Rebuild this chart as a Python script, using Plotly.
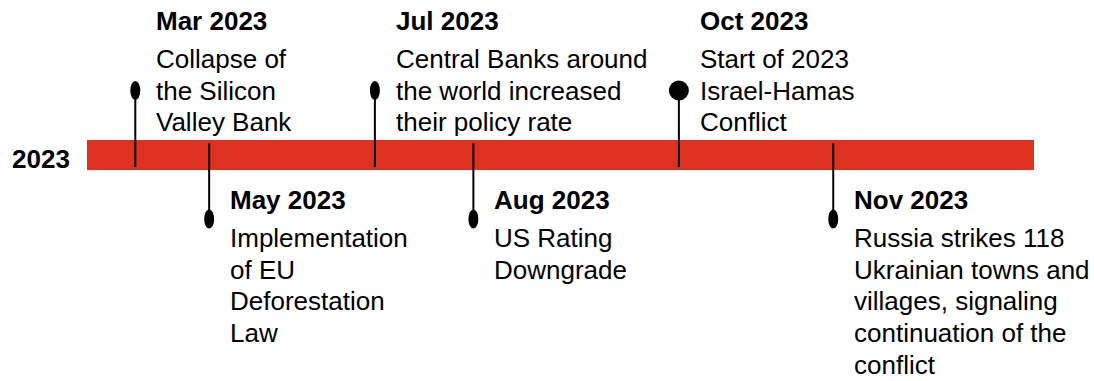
import plotly.graph_objects as go

# Timeline events for 2023
year_label = "2023"
event_titles = ["Mar 2023", "May 2023", "Jul 2023", "Aug 2023", "Oct 2023", "Nov 2023"]
event_positions = [5.1, 12.9, 30.4, 40.8, 62.5, 78.8]  # position along the track (0-100)
event_sides = ["up", "down", "up", "down", "up", "down"]
event_lines = [
    ["Collapse of", "the Silicon", "Valley Bank"],
    ["Implementation", "of EU", "Deforestation", "Law"],
    ["Central Banks around", "the world increased", "their policy rate"],
    ["US Rating", "Downgrade"],
    ["Start of 2023", "Israel-Hamas", "Conflict"],
    ["Russia strikes 118", "Ukrainian towns and", "villages, signaling",
     "continuation of the", "conflict"],
]

# Styling
RED = "#DF3120"
FONT = "Liberation Sans, Arial, sans-serif"
FS = 26
TRACK_START, TRACK_END = 0, 100
TRACK_HALF = 15          # half thickness of the track (y units = px)
STEM_UP_TOP, STEM_UP_BOTTOM = 64.5, -12
STEM_DOWN_TOP, STEM_DOWN_BOTTOM = 12, -64
TITLE_UP_Y, TITLE_DOWN_Y = 134, -45
TITLE_GAP, LINE_H = 38, 31.7
TEXT_XSHIFT = 19
DOT_SIZES = {"Oct 2023": (20, 20)}
DEFAULT_DOT = (10, 19)

fig = go.Figure()

shapes = [
    dict(type="rect", xref="x", yref="y", x0=TRACK_START, x1=TRACK_END,
         y0=-TRACK_HALF, y1=TRACK_HALF, fillcolor=RED, line=dict(width=0), layer="below")
]

stem_x, stem_y = [], []
annotations = []
for title, pos, side, lines in zip(event_titles, event_positions, event_sides, event_lines):
    if side == "up":
        y_dot, y_end = STEM_UP_TOP, STEM_UP_BOTTOM
        ty = TITLE_UP_Y
    else:
        y_dot, y_end = STEM_DOWN_BOTTOM, STEM_DOWN_TOP
        ty = TITLE_DOWN_Y
    stem_x += [pos, pos, None]
    stem_y += [y_dot, y_end, None]

    w, h = DOT_SIZES.get(title, DEFAULT_DOT)
    shapes.append(dict(type="circle", xref="x", yref="y", xsizemode="pixel",
                       ysizemode="pixel", xanchor=pos, yanchor=y_dot,
                       x0=-w / 2, x1=w / 2, y0=-h / 2, y1=h / 2,
                       fillcolor="black", line=dict(width=0)))

    annotations.append(dict(x=pos, y=ty, xref="x", yref="y", text="<b>%s</b>" % title,
                            showarrow=False, xanchor="left", yanchor="middle",
                            xshift=TEXT_XSHIFT,
                            font=dict(family=FONT, size=FS, color="black")))
    for i, line in enumerate(lines):
        annotations.append(dict(x=pos, y=ty - TITLE_GAP - i * LINE_H, xref="x", yref="y",
                                text=line, showarrow=False, xanchor="left",
                                yanchor="middle", xshift=TEXT_XSHIFT,
                                font=dict(family=FONT, size=FS, color="black")))

annotations.append(dict(x=10 / 1094, y=-4, xref="paper", yref="y",
                        text="<b>%s</b>" % year_label, showarrow=False,
                        xanchor="left", yanchor="middle",
                        font=dict(family=FONT, size=FS, color="black")))

fig.add_trace(go.Scatter(x=stem_x, y=stem_y, mode="lines",
                         line=dict(color="black", width=2), hoverinfo="skip",
                         showlegend=False))

px_per_unit = (1034 - 87) / (TRACK_END - TRACK_START)
fig.update_layout(
    width=1094, height=381,
    margin=dict(l=0, r=0, t=0, b=0),
    paper_bgcolor="white", plot_bgcolor="white",
    xaxis=dict(range=[-87 / px_per_unit, (1094 - 87) / px_per_unit], visible=False,
               fixedrange=True),
    yaxis=dict(range=[-226, 155], visible=False, fixedrange=True),
    shapes=shapes, annotations=annotations, showlegend=False,
)

fig.write_html("out.html", config={"displayModeBar": False})
